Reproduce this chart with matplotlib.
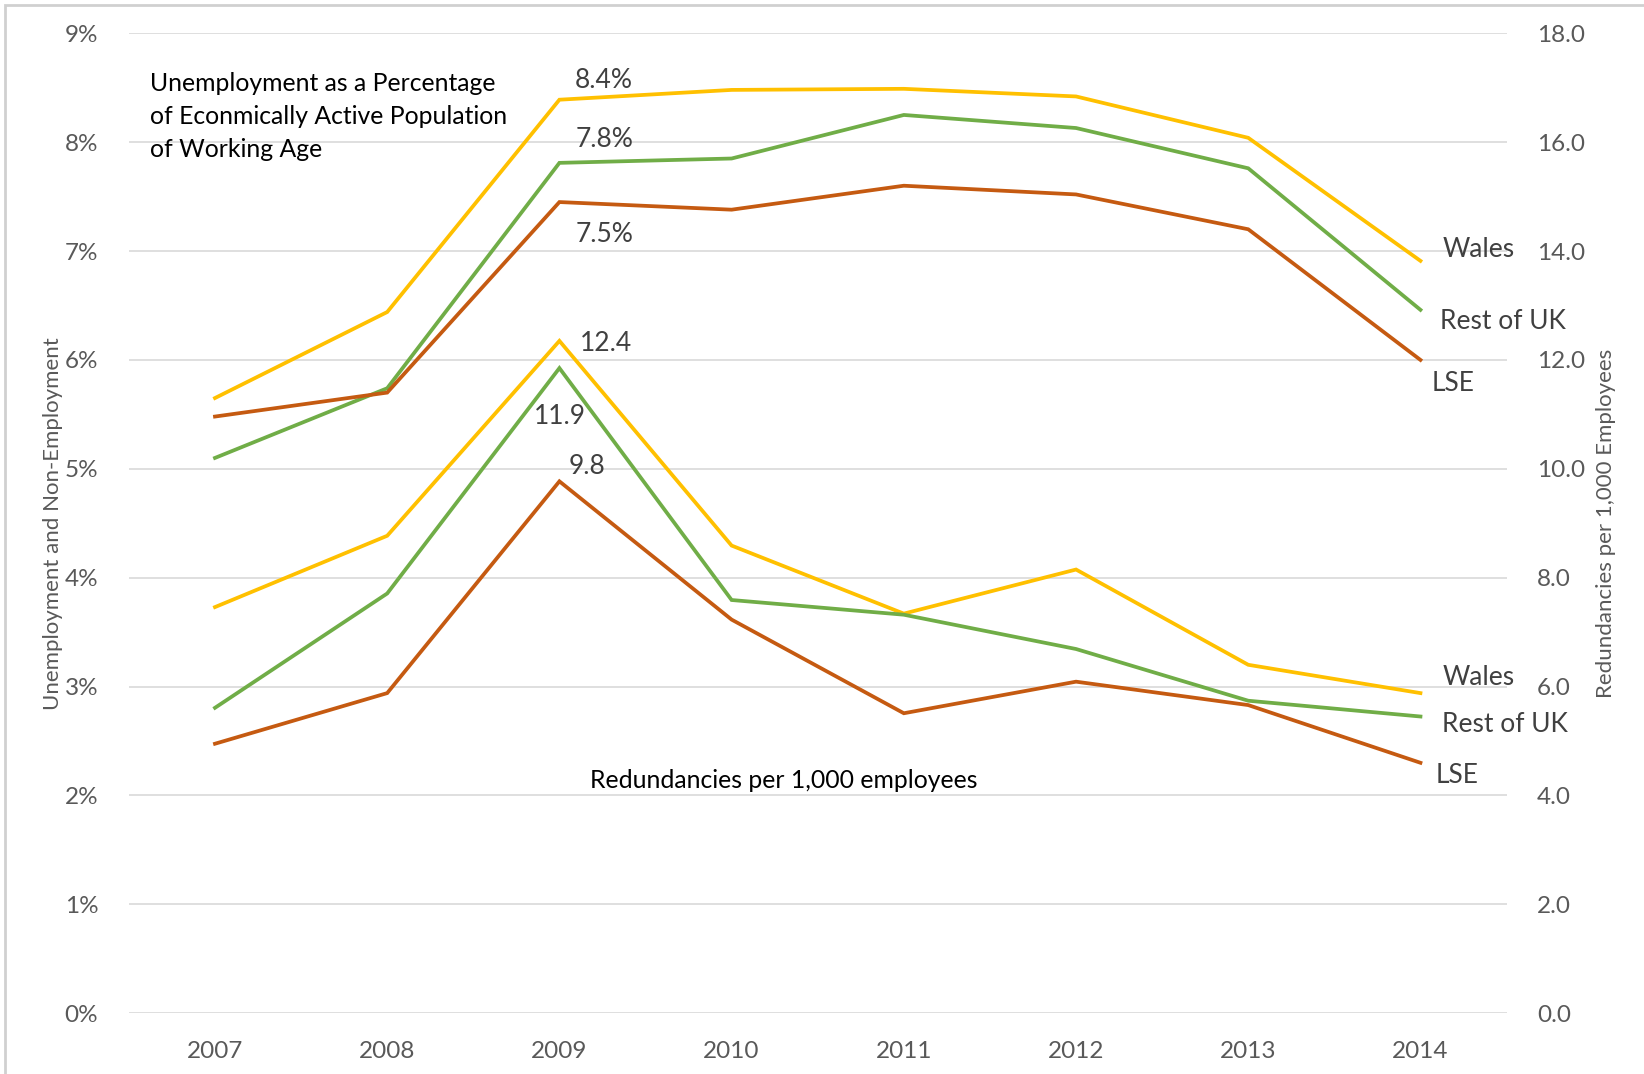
import matplotlib
matplotlib.use("Agg")
import matplotlib.pyplot as plt
from matplotlib.ticker import FuncFormatter
from matplotlib.patches import Rectangle

plt.rcParams["font.family"] = ["Lato", "DejaVu Sans"]

years = ["2007", "2008", "2009", "2010", "2011", "2012", "2013", "2014"]

# unemployment, % of economically active population of working age (left axis)
unemp_wales = [5.65, 6.44, 8.39, 8.48, 8.49, 8.42, 8.04, 6.91]
unemp_rest = [5.10, 5.74, 7.81, 7.85, 8.25, 8.13, 7.76, 6.46]
unemp_lse = [5.48, 5.70, 7.45, 7.38, 7.60, 7.52, 7.20, 6.00]

# redundancies per 1,000 employees (right axis)
red_wales = [7.46, 8.77, 12.35, 8.59, 7.34, 8.15, 6.40, 5.88]
red_rest = [5.61, 7.71, 11.85, 7.59, 7.32, 6.69, 5.74, 5.45]
red_lse = [4.95, 5.88, 9.77, 7.23, 5.51, 6.09, 5.66, 4.60]

YELLOW, GREEN, ORANGE = "#FFC000", "#70AD47", "#C55A11"
TICK_C, TXT_C = "#595959", "#404040"

fig = plt.figure(figsize=(16.44, 10.74), dpi=100)
ax = fig.add_axes([0.0784, 0.0566, 0.838, 0.9124])
ax2 = ax.twinx()

x = range(len(years))
lw = 2.7
for vals, c in [(unemp_wales, YELLOW), (unemp_rest, GREEN), (unemp_lse, ORANGE)]:
    ax.plot(x, vals, color=c, lw=lw, solid_joinstyle="miter", zorder=3)
for vals, c in [(red_wales, YELLOW), (red_rest, GREEN), (red_lse, ORANGE)]:
    ax2.plot(x, vals, color=c, lw=lw, solid_joinstyle="miter", zorder=3)

ax.set_xlim(-0.5, len(years) - 0.5)
ax.set_ylim(0, 9)
ax2.set_ylim(0, 18)
ax.set_yticks(range(0, 10))
ax2.set_yticks(range(0, 19, 2))
ax.yaxis.set_major_formatter(FuncFormatter(lambda v, p: f"{v:.0f}%"))
ax2.yaxis.set_major_formatter(FuncFormatter(lambda v, p: f"{v:.1f}"))
ax.set_xticks(list(x))
ax.set_xticklabels(years)
ax.grid(axis="y", color="#D9D9D9", lw=1.2)
ax.set_axisbelow(True)

for a in (ax, ax2):
    for s in a.spines.values():
        s.set_visible(False)
    a.tick_params(length=0, labelsize=17.5, labelcolor=TICK_C)
ax.tick_params(axis="x", pad=20)
ax.tick_params(axis="y", pad=22)
ax2.tick_params(axis="y", pad=22)

ax.set_ylabel("Unemployment and Non-Employment", fontsize=16, color=TICK_C, labelpad=1)
ax2.set_ylabel("Redundancies per 1,000 Employees", fontsize=16, color=TICK_C, labelpad=8)

# annotations
ax.text(-0.378, 8.64, "Unemployment as a Percentage\nof Econmically Active Population\nof Working Age",
        fontsize=17.8, color="black", va="top", ha="left", linespacing=1.52)
ax.text(2.26, 8.57, "8.4%", fontsize=19, color=TXT_C, ha="center", va="center")
ax.text(2.26, 8.02, "7.8%", fontsize=19, color=TXT_C, ha="center", va="center")
ax.text(2.26, 7.15, "7.5%", fontsize=19, color=TXT_C, ha="center", va="center")
ax2.text(2.27, 12.31, "12.4", fontsize=19, color=TXT_C, ha="center", va="center")
ax2.text(2.0, 10.96, "11.9", fontsize=19, color=TXT_C, ha="center", va="center")
ax2.text(2.16, 10.04, "9.8", fontsize=19, color=TXT_C, ha="center", va="center")

ax.text(7.34, 7.01, "Wales", fontsize=19, color=TXT_C, ha="center", va="center")
ax.text(7.48, 6.35, "Rest of UK", fontsize=19, color=TXT_C, ha="center", va="center")
ax.text(7.19, 5.78, "LSE", fontsize=19, color=TXT_C, ha="center", va="center")
ax2.text(7.34, 6.17, "Wales", fontsize=19, color=TXT_C, ha="center", va="center")
ax2.text(7.49, 5.30, "Rest of UK", fontsize=19, color=TXT_C, ha="center", va="center")
ax2.text(7.21, 4.37, "LSE", fontsize=19, color=TXT_C, ha="center", va="center")
ax2.text(3.30, 4.28, "Redundancies per 1,000 employees", fontsize=17.8, color="black",
         ha="center", va="center")

# light frame of the chart area
fig.patches.append(Rectangle((0.003, -0.01), 1.05, 1.005, transform=fig.transFigure,
                             fill=False, edgecolor="#D0D0D0", lw=2))

fig.savefig("out.png", dpi=100)
